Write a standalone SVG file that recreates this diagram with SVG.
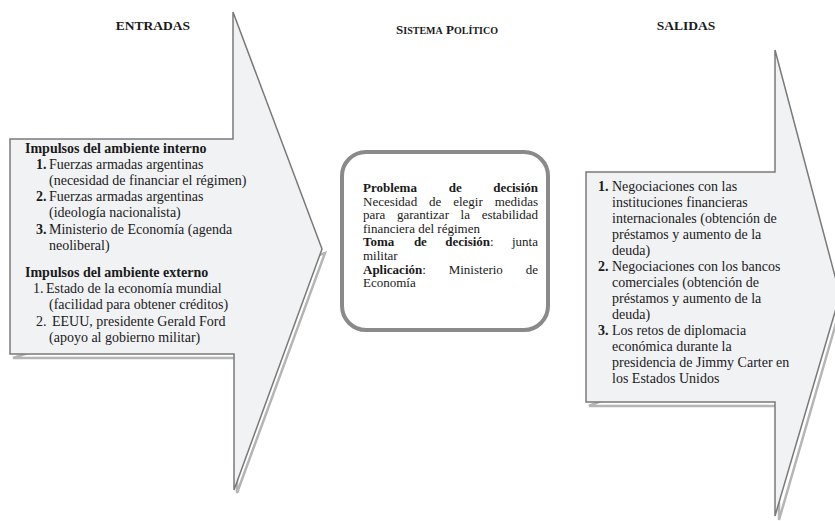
<svg xmlns="http://www.w3.org/2000/svg" width="835" height="521" viewBox="0 0 835 521">
<style>
text{font-family:"Liberation Serif","Times New Roman",serif;fill:#1a1a1a}
.h{font-weight:bold;font-size:13.5px}
.l{font-size:14px}
.c{font-size:13px}
.b{font-weight:bold}
.shape{fill:#f1f2f4;stroke:#7a7a7a;stroke-width:1.5;stroke-linejoin:miter}
.shadow{fill:none;stroke:#b5b5b5;stroke-width:2.5}
</style>
<rect width="835" height="521" fill="#ffffff"/>
<g id="titles">
<text class="h" x="153" y="30" text-anchor="middle">ENTRADAS</text>
<text class="h" x="447" y="34" text-anchor="middle"><tspan font-size="13">S</tspan><tspan font-size="10">ISTEMA</tspan> <tspan font-size="13">P</tspan><tspan font-size="10">OLÍTICO</tspan></text>
<text class="h" x="686" y="30" text-anchor="middle">SALIDAS</text>
</g>
<g id="entradas">
<polygon class="shadow" points="12,357 236,357 236,492 324,252" transform="translate(1,1)"/>
<polygon class="shape" points="10,139 233,139 233,12 322,249 234,490 234,354 10,354"/>
<text class="l b" x="25" y="152.5">Impulsos del ambiente interno</text>
<text class="l" y="168.7"><tspan class="b" x="36">1.</tspan><tspan x="49">Fuerzas armadas argentinas</tspan></text>
<text class="l" x="49" y="184.9">(necesidad de financiar el régimen)</text>
<text class="l" y="201.1"><tspan class="b" x="36">2.</tspan><tspan x="49">Fuerzas armadas argentinas</tspan></text>
<text class="l" x="49" y="217.3">(ideología nacionalista)</text>
<text class="l" y="233.5"><tspan class="b" x="36">3.</tspan><tspan x="49">Ministerio de Economía (agenda</tspan></text>
<text class="l" x="49" y="249.7">neoliberal)</text>
<text class="l b" x="25" y="277">Impulsos del ambiente externo</text>
<text class="l" y="293.2"><tspan x="33">1.</tspan><tspan x="46">Estado de la economía mundial</tspan></text>
<text class="l" x="49" y="309.4">(facilidad para obtener créditos)</text>
<text class="l" y="325.6"><tspan x="36">2.</tspan><tspan x="52">EEUU, presidente Gerald Ford</tspan></text>
<text class="l" x="49" y="341.8">(apoyo al gobierno militar)</text>
</g>
<g id="sistema">
<rect x="342" y="152" width="206" height="178" rx="24" ry="24" fill="#ffffff" stroke="#8a8a8a" stroke-width="4"/>
<text class="c b" y="192"><tspan x="363">Problema</tspan><tspan x="448.7">de</tspan></text>
<text class="c b" x="538" y="192" text-anchor="end">decisión</text>
<text class="c" y="205.6"><tspan x="363">Necesidad</tspan><tspan x="429">de</tspan><tspan x="453.2">elegir</tspan></text>
<text class="c" x="538" y="205.6" text-anchor="end">medidas</text>
<text class="c" y="219.2"><tspan x="363">para</tspan><tspan x="397">garantizar</tspan><tspan x="460.6">la</tspan></text>
<text class="c" x="538" y="219.2" text-anchor="end">estabilidad</text>
<text class="c" x="363" y="232.8">financiera del régimen</text>
<text class="c" y="246.4"><tspan class="b" x="363">Toma</tspan><tspan class="b" x="413.9">de</tspan><tspan class="b" x="445.3">decisión</tspan><tspan>:</tspan></text>
<text class="c" x="538" y="246.4" text-anchor="end">junta</text>
<text class="c" x="363" y="260">militar</text>
<text class="c" y="273.6"><tspan class="b" x="363">Aplicación</tspan><tspan>:</tspan><tspan x="448.7">Ministerio</tspan></text>
<text class="c" x="538" y="273.6" text-anchor="end">de</text>
<text class="c" x="363" y="287.2">Economía</text>
</g>
<g id="salidas">
<polygon class="shadow" points="588,405 778,405 778,519 842,298" transform="translate(1,1)"/>
<polygon class="shape" points="586,172 775,172 775,50 840,295 775,516 775,402 586,402"/>
<text class="l" y="191"><tspan class="b" x="598">1.</tspan><tspan x="612">Negociaciones con las</tspan></text>
<text class="l" x="612" y="207">instituciones financieras</text>
<text class="l" x="612" y="223">internacionales (obtención de</text>
<text class="l" x="612" y="239">préstamos y aumento de la</text>
<text class="l" x="612" y="255">deuda)</text>
<text class="l" y="271"><tspan class="b" x="598">2.</tspan><tspan x="612">Negociaciones con los bancos</tspan></text>
<text class="l" x="612" y="287">comerciales (obtención de</text>
<text class="l" x="612" y="303">préstamos y aumento de la</text>
<text class="l" x="612" y="319">deuda)</text>
<text class="l" y="335"><tspan class="b" x="598">3.</tspan><tspan x="612">Los retos de diplomacia</tspan></text>
<text class="l" x="612" y="351">económica durante la</text>
<text class="l" x="612" y="367">presidencia de Jimmy Carter en</text>
<text class="l" x="612" y="383">los Estados Unidos</text>
</g>
<g id="connectors"></g>
</svg>
